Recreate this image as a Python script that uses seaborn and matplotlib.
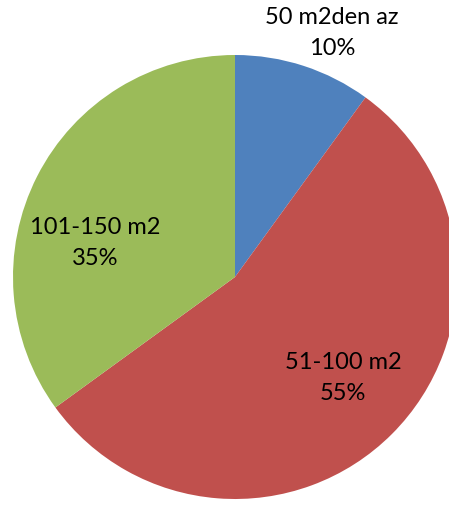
import matplotlib
matplotlib.use("Agg")
import matplotlib.pyplot as plt
import seaborn as sns

categories = ["50 m2den az", "51-100 m2", "101-150 m2"]
values = [10, 55, 35]
pct_labels = ["10%", "55%", "35%"]
colors = ["#4F81BD", "#C0504D", "#9BBB59"]

sns.set_style("white")
plt.rcParams['font.family'] = ['Lato', 'DejaVu Sans']

W, H = 449, 505
fig = plt.figure(figsize=(W / 100, H / 100), dpi=100)
ax = fig.add_axes([0, 0, 1, 1])

cx, cy, r = 235, H - 277, 222
wedges, _ = ax.pie(values, colors=colors, startangle=90, counterclock=False,
                   center=(cx, cy), radius=r, frame=True,
                   wedgeprops=dict(linewidth=0))
ax.set_xlim(0, W)
ax.set_ylim(0, H)
ax.set_aspect('equal')
ax.axis('off')

label_pos = [(332, H - 33), (343, H - 378), (95, H - 243)]
for cat, p, (x, y) in zip(categories, pct_labels, label_pos):
    ax.text(x, y, f"{cat}\n{p}", ha='center', va='center', fontsize=17,
            color='black', linespacing=1.55)

fig.savefig("out.png", dpi=100)
